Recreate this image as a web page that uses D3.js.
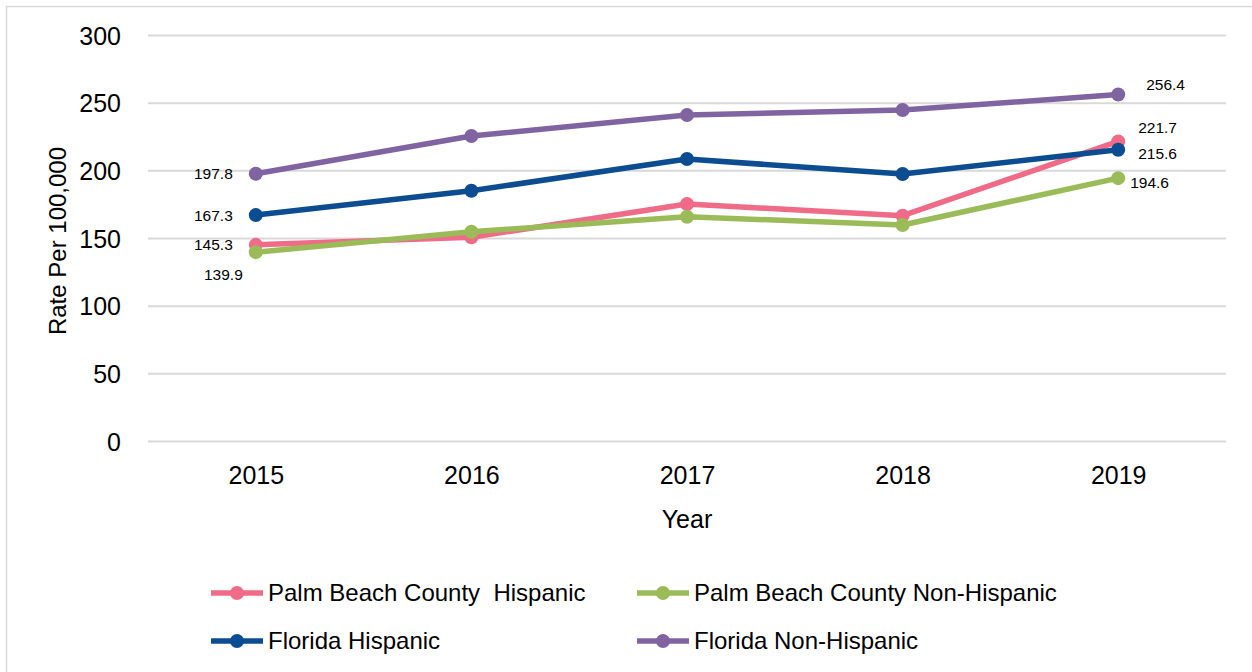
<!DOCTYPE html>
<html><head><meta charset="utf-8">
<script src="https://cdn.jsdelivr.net/npm/d3@7"></script>
<style>
body{margin:0;background:#fff;}
text{font-family:"Liberation Sans Narrow","Arial Narrow","Liberation Sans",Arial,sans-serif;fill:#000;white-space:pre;}
</style></head>
<body><svg id="c" width="1252" height="672"></svg>
<script>
const years = ["2015","2016","2017","2018","2019"];
const seriesNames = ["Palm Beach County  Hispanic","Palm Beach County Non-Hispanic","Florida Hispanic","Florida Non-Hispanic"];
const pbcHispanic = [145.3,150.9,175.5,166.9,221.7];
const pbcNonHispanic = [139.9,155.0,166.1,160.0,194.6];
const flHispanic = [167.3,185.3,208.7,197.7,215.6];
const flNonHispanic = [197.8,225.7,241.2,244.9,256.4];
const yTicks = [0,50,100,150,200,250,300];
const colors = ["#EF6B88","#9BBB59","#0B4D90","#8064A2"];

const series = [
  {name:seriesNames[0], values:pbcHispanic, color:colors[0]},
  {name:seriesNames[1], values:pbcNonHispanic, color:colors[1]},
  {name:seriesNames[2], values:flHispanic, color:colors[2]},
  {name:seriesNames[3], values:flNonHispanic, color:colors[3]}
];

const svg = d3.select("#c");
svg.append("rect").attr("x",6.5).attr("y",6.5).attr("width",1260).attr("height",680)
  .attr("fill","#fff").attr("stroke","#d9d9d9").attr("stroke-width",1.5);

const x = d3.scalePoint().domain(years).range([148,1226]).padding(0.5);
const y = d3.scaleLinear().domain([0,300]).range([441.5,35.5]);

// gridlines
svg.append("g").selectAll("line").data(yTicks).join("line")
  .attr("x1",148).attr("x2",1226).attr("y1",d=>y(d)).attr("y2",d=>y(d))
  .attr("stroke","#d9d9d9").attr("stroke-width",2);

const ff = '"Liberation Sans Narrow","Arial Narrow","Liberation Sans",Arial,sans-serif';

// y axis labels
const yAxis = d3.axisLeft(y).tickValues(yTicks).tickSize(0).tickPadding(0);
const gy = svg.append("g").attr("transform","translate(121,0)").call(yAxis);
gy.select(".domain").remove();
gy.selectAll("text").attr("font-size",25).attr("dy","0.35em").style("font-family",ff);

// x axis labels
const xAxis = d3.axisBottom(x).tickSize(0).tickPadding(0);
const gx = svg.append("g").attr("transform","translate(0,466)").call(xAxis);
gx.select(".domain").remove();
gx.selectAll("text").attr("font-size",25).attr("dy","0.7em").style("font-family",ff);

// axis titles
svg.append("text").attr("transform","translate(66,241) rotate(-90)").attr("text-anchor","middle")
  .attr("font-size",24).text("Rate Per 100,000");
svg.append("text").attr("x",687).attr("y",528).attr("text-anchor","middle")
  .attr("font-size",25).text("Year");

// lines
const line = d3.line().x((d,i)=>x(years[i])).y(d=>y(d));
series.forEach(s=>{
  svg.append("path").datum(s.values).attr("d",line).attr("fill","none")
    .attr("stroke",s.color).attr("stroke-width",5.5).attr("stroke-linejoin","round");
  svg.append("g").selectAll("circle").data(s.values).join("circle")
    .attr("cx",(d,i)=>x(years[i])).attr("cy",d=>y(d)).attr("r",7).attr("fill",s.color);
});

// data labels
const labels = [
  {s:0,i:0,dx:-23,dy:0,anchor:"end"},
  {s:1,i:0,dx:-13,dy:22,anchor:"end"},
  {s:2,i:0,dx:-23,dy:0,anchor:"end"},
  {s:3,i:0,dx:-23,dy:0,anchor:"end"},
  {s:0,i:4,dx:20,dy:-14,anchor:"start"},
  {s:1,i:4,dx:12,dy:4,anchor:"start"},
  {s:2,i:4,dx:20,dy:4,anchor:"start"},
  {s:3,i:4,dx:28,dy:-10,anchor:"start"}
];
svg.append("g").selectAll("text").data(labels).join("text")
  .attr("x",d=>x(years[d.i])+d.dx).attr("y",d=>y(series[d.s].values[d.i])+d.dy)
  .attr("dy","0.35em").attr("text-anchor",d=>d.anchor).attr("font-size",15.5)
  .text(d=>series[d.s].values[d.i].toFixed(1));

// legend
const legPos = [[211,593],[637,593],[211,641],[637,641]];
series.forEach((s,k)=>{
  const [lx,ly] = legPos[k];
  const g = svg.append("g").attr("transform",`translate(${lx},${ly})`);
  g.append("line").attr("x1",0).attr("x2",52).attr("y1",0).attr("y2",0)
    .attr("stroke",s.color).attr("stroke-width",5.5);
  g.append("circle").attr("cx",26).attr("cy",0).attr("r",7).attr("fill",s.color);
  g.append("text").attr("x",57).attr("y",0).attr("dy","0.35em").attr("font-size",24).text(s.name);
});
</script></body></html>
